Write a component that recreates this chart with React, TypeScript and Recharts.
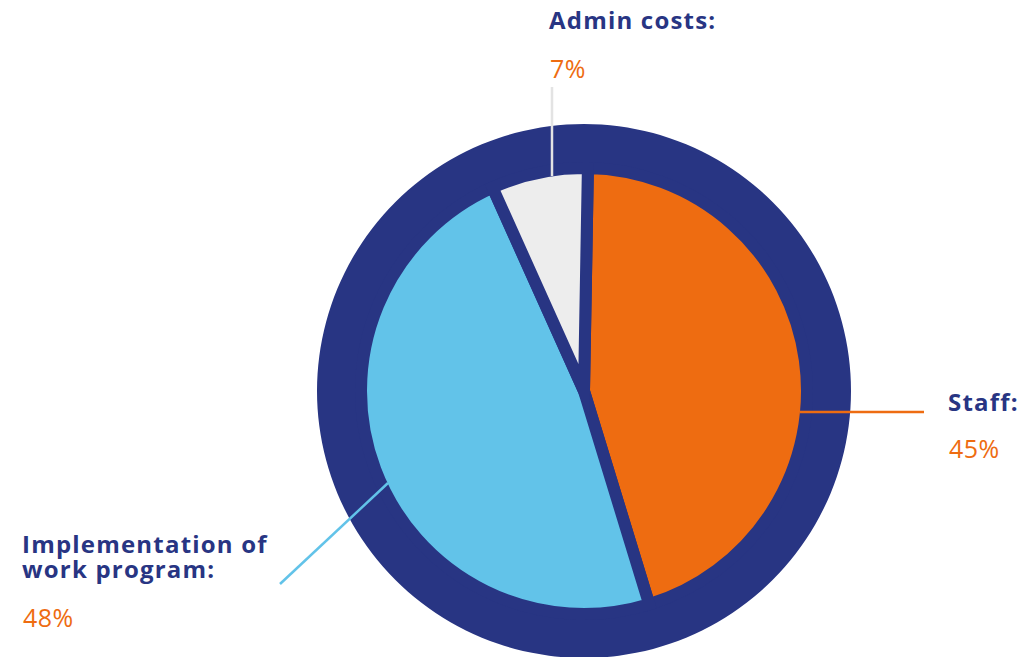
import React from 'react';
import { PieChart, Pie, Cell } from 'recharts';

const categories = ['Staff', 'Implementation of work program', 'Admin costs'];
const shares = [45, 48, 7];
const labelLines = [['Staff:'], ['Implementation of', 'work program:'], ['Admin costs:']];

const NAVY = '#283583';
const sliceColors = ['#ee6c11', '#62c3e9', '#ededed'];
const lineColors = ['#ee6c11', '#62c3e9', '#e3e3e3'];

const data = categories.map((name, i) => ({ name, value: shares[i] }));
const ring = [{ name: 'ring', value: 1 }];

// where each label block and its leader line sit
const layout = [
    { x: 948, y: 411, pctY: 458, line: [800, 412, 924, 412] },
    { x: 22, y: 553, pctY: 627, line: [388, 483, 280, 584] },
    { x: 549, y: 29, pctY: 78, line: [552, 176, 552, 87] },
];

const FONT = '"Open Sans", "Noto Sans", sans-serif';

const renderLabel = (props: any) => {
    const { index } = props;
    const l = layout[index];
    const [x1, y1, x2, y2] = l.line;
    return (
        <g key={`lbl-${index}`}>
            <line x1={x1} y1={y1} x2={x2} y2={y2} stroke={lineColors[index]} strokeWidth={2.5} />
            <text
                x={l.x}
                y={l.y}
                fill={NAVY}
                fontFamily={FONT}
                fontWeight={700}
                fontSize={24}
                letterSpacing={1.2}
            >
                {labelLines[index].map((t, j) => (
                    <tspan key={j} x={l.x} dy={j === 0 ? 0 : 25}>
                        {t}
                    </tspan>
                ))}
            </text>
            <text x={l.x + 1} y={l.pctY} fill="#ee6c11" fontFamily={FONT} fontSize={25} letterSpacing={0.5}>
                {shares[index]}%
            </text>
        </g>
    );
};

export default function App() {
    return (
        <div style={{ position: 'absolute', left: 0, top: 0, width: 1032, height: 657, background: '#fff' }}>
            <PieChart width={1032} height={657} margin={{ top: 0, right: 0, bottom: 0, left: 0 }}>
                <Pie
                    data={ring}
                    dataKey="value"
                    cx={584}
                    cy={391}
                    outerRadius={267}
                    innerRadius={0}
                    fill={NAVY}
                    stroke="none"
                    isAnimationActive={false}
                />
                <Pie
                    data={data}
                    dataKey="value"
                    cx={584}
                    cy={391}
                    outerRadius={223}
                    innerRadius={0}
                    startAngle={89}
                    endAngle={-271}
                    stroke={NAVY}
                    strokeWidth={12}
                    label={renderLabel}
                    labelLine={false}
                    isAnimationActive={false}
                >
                    {data.map((entry, index) => (
                        <Cell key={`cell-${index}`} fill={sliceColors[index]} strokeMiterlimit={10} />
                    ))}
                </Pie>
            </PieChart>
        </div>
    );
}
